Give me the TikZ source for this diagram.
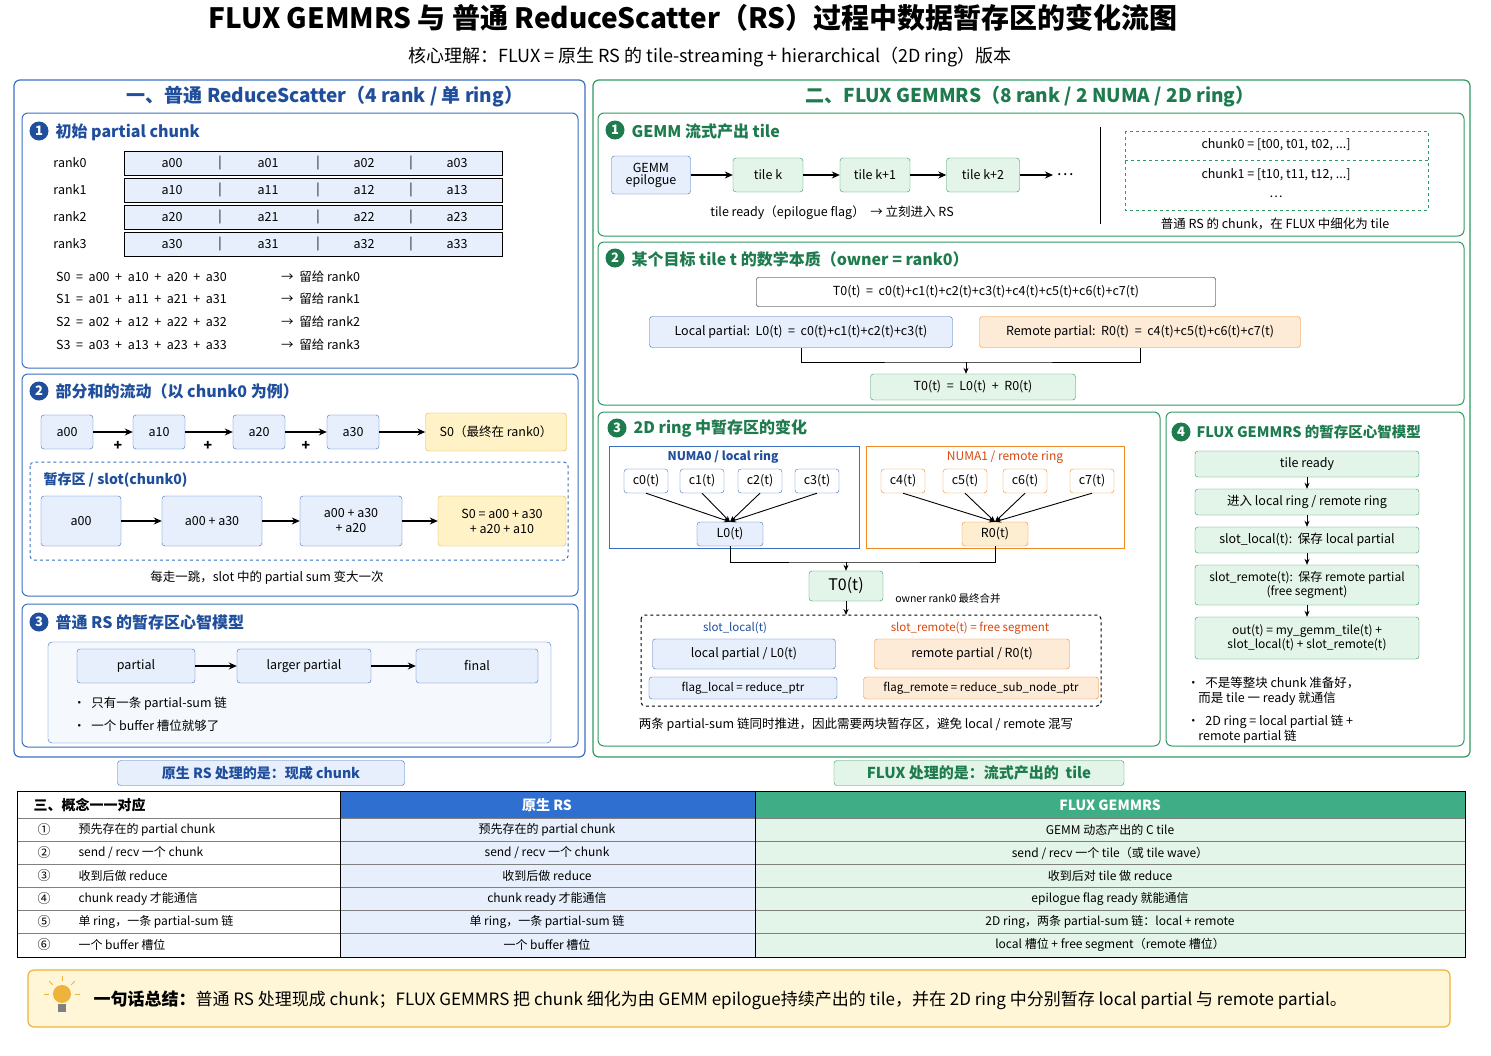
\documentclass[tikz,border=0pt]{standalone}
\usepackage{fontspec}
\setmainfont{Noto Sans CJK SC}
\usetikzlibrary{arrows.meta}
\definecolor{bdark}{HTML}{1F4E9C}
\definecolor{bline}{HTML}{3A6FC4}
\definecolor{bfill}{HTML}{E6EFFB}
\definecolor{gdark}{HTML}{1E7B4E}
\definecolor{gline}{HTML}{2E9A62}
\definecolor{gfill}{HTML}{E3F4E8}
\definecolor{oline}{HTML}{F08A24}
\definecolor{ofill}{HTML}{FDEBD8}
\definecolor{ored}{HTML}{D9480F}
\definecolor{yline}{HTML}{EDB33A}
\definecolor{yfill}{HTML}{FFF2C6}
\definecolor{hblue}{HTML}{2F6FD0}
\definecolor{hgreen}{HTML}{3FAE86}
\newcommand{\fz}[1]{\fontsize{#1}{\the\dimexpr#1pt*6/5\relax}\selectfont}
\tikzset{
 T/.style={font=\fz{12.5},inner sep=1pt},
 bb/.style={draw=bline,fill=bfill,rounded corners=3,font=\fz{12.5},align=center,inner sep=2pt},
 gb/.style={draw=gline,fill=gfill,rounded corners=3,font=\fz{12.5},align=center,inner sep=2pt},
 ob/.style={draw=oline,fill=ofill,rounded corners=3,font=\fz{12.5},align=center,inner sep=2pt},
 yb/.style={draw=yline,fill=yfill,rounded corners=3,font=\fz{12.5},align=center,inner sep=2pt},
 wb/.style={draw=black,fill=white,rounded corners=2,font=\fz{12.5},align=center,inner sep=2pt},
 panelB/.style={draw=bline,line width=1.2pt,rounded corners=6},
 panelG/.style={draw=gline,line width=1.2pt,rounded corners=6},
 numB/.style={circle,fill=bdark,text=white,font=\fz{13}\bfseries,inner sep=0pt,minimum size=19pt},
 numG/.style={circle,fill=gdark,text=white,font=\fz{13}\bfseries,inner sep=0pt,minimum size=19pt},
 hB/.style={font=\fz{16}\bfseries,text=bdark,anchor=west},
 hG/.style={font=\fz{16}\bfseries,text=gdark,anchor=west},
 ar/.style={-{Stealth[length=8pt,width=7pt]},line width=1.2pt},
 sar/.style={-{Stealth[length=6pt,width=5pt]},line width=0.9pt},
}
\begin{document}
\begin{tikzpicture}[x=1pt,y=-1pt]
\useasboundingbox[fill=white] (0,0) rectangle (1491,1055);
\node[font=\fz{28}\bfseries] (title) at (693,18) {FLUX GEMMRS 与 普通 ReduceScatter（RS）过程中数据暂存区的变化流图};
\node[font=\fz{18}] (sub) at (710,57) {核心理解：FLUX = 原生 RS 的 tile-streaming + hierarchical（2D ring）版本};

%% LEFT PANEL
\draw[panelB] (14,80) rectangle (585,757);
\node[font=\fz{19}\bfseries,text=bdark] (lh) at (325,97) {一、普通 ReduceScatter（4 rank / 单 ring）};
\draw[panelB,line width=1pt] (22,113) rectangle (578,368);
\node[numB] (n11) at (39,131) {1};
\node[hB] (l11) at (52,132) {初始 partial chunk};
\foreach \r/\y in {0/163,1/190,2/217,3/244}{
 \node[T] (rk\r) at (70,\y) {rank\r};
 \node[draw=black,fill=bfill,minimum width=378,minimum height=24,inner sep=0] (row\r) at (313,\y) {};
 \foreach \c/\x in {0/172,1/268,2/364,3/457}{\node[T] (a\r\c) at (\x,\y) {a\r\c};}
 \foreach \x in {220,318,411}{\node[T] at (\x,\y) {|};}
}
\foreach \s/\y in {0/277,1/299,2/322,3/345}{
 \node[T,anchor=west] (S\s) at (55,\y) {S\s\ \ =\ \ a0\s\ \ +\ \ a1\s\ \ +\ \ a2\s\ \ +\ \ a3\s};
 \node[T,anchor=west] (St\s) at (280,\y) {→\ \ 留给 rank\s};
}
\draw[panelB,line width=1pt] (22,374) rectangle (578,596);
\node[numB] (n12) at (39,391) {2};
\node[hB] (l12) at (52,391) {部分和的流动（以 chunk0 为例）};
\node[bb,minimum width=52,minimum height=34] (f0) at (67,432) {a00};
\node[bb,minimum width=52,minimum height=34] (f1) at (159,432) {a10};
\node[bb,minimum width=52,minimum height=34] (f2) at (259,432) {a20};
\node[bb,minimum width=52,minimum height=34] (f3) at (353,432) {a30};
\node[yb,minimum width=141,minimum height=38] (fS) at (496,432) {S0（最终在 rank0）};
\draw[ar] (f0) -- (f1); \draw[ar] (f1) -- (f2); \draw[ar] (f2) -- (f3); \draw[ar] (f3) -- (fS);
\foreach \x in {118,208,306}{\node[font=\fz{14}\bfseries] at (\x,446) {+};}
\draw[bline,dashed,line width=1pt,rounded corners=4] (30,462) rectangle (568,560);
\node[font=\fz{14}\bfseries,text=bdark,anchor=west] (slotl) at (40,480) {暂存区 / slot(chunk0)};
\node[bb,minimum width=80,minimum height=50] (s0) at (81,521) {a00};
\node[bb,minimum width=100,minimum height=50] (s1) at (212,521) {a00 + a30};
\node[bb,minimum width=102,minimum height=50] (s2) at (351,521) {a00 + a30\\+ a20};
\node[yb,minimum width=128,minimum height=50] (s3) at (502,521) {S0 = a00 + a30\\+ a20 + a10};
\draw[ar] (s0) -- (s1); \draw[ar] (s1) -- (s2); \draw[ar] (s2) -- (s3);
\node[T] (cap1) at (267,578) {每走一跳，slot 中的 partial sum 变大一次};
\draw[panelB,line width=1pt] (22,604) rectangle (578,747);
\node[numB] (n13) at (39,622) {3};
\node[hB] (l13) at (52,622) {普通 RS 的暂存区心智模型};
\draw[bline,fill=bfill!40,rounded corners=4] (48,642) rectangle (551,743);
\node[bb,minimum width=118,minimum height=34] (m0) at (136,666) {partial};
\node[bb,minimum width=134,minimum height=34] (m1) at (304,666) {larger partial};
\node[bb,minimum width=122,minimum height=34] (m2) at (477,666) {final};
\draw[ar] (m0) -- (m1); \draw[ar] (m1) -- (m2);
\node[T,anchor=west] (b1) at (72,704) {•\ \ 只有一条 partial-sum 链};
\node[T,anchor=west] (b2) at (72,726) {•\ \ 一个 buffer 槽位就够了};

%% RIGHT PANEL
\draw[panelG] (593,80) rectangle (1470,757);
\node[font=\fz{19}\bfseries,text=gdark] (rh) at (1030,97) {二、FLUX GEMMRS（8 rank / 2 NUMA / 2D ring）};
\draw[panelG,line width=1pt] (598,113) rectangle (1464,236);
\node[numG] (n21) at (615,130) {1};
\node[hG] (l21) at (628,131) {GEMM 流式产出 tile};
\node[bb,minimum width=79,minimum height=38] (ge) at (651,175) {GEMM\\[-3pt]epilogue};
\node[gb,minimum width=70,minimum height=34] (tk) at (768,175) {tile k};
\node[gb,minimum width=70,minimum height=34] (tk1) at (875,175) {tile k+1};
\node[gb,minimum width=73,minimum height=34] (tk2) at (983,175) {tile k+2};
\node[font=\fz{16}] (dots) at (1065,175) {⋯};
\draw[ar] (ge) -- (tk); \draw[ar] (tk) -- (tk1); \draw[ar] (tk1) -- (tk2); \draw[ar] (tk2) -- (dots);
\node[T] (cap21) at (832,213) {tile ready（epilogue flag）\ \ → 立刻进入 RS};
\draw[line width=0.8pt] (1100,127) -- (1100,224);
\draw[gline,dashed,line width=1pt] (1125,131) rectangle (1428,210);
\draw[gline,dashed,line width=1pt] (1125,160) -- (1428,160);
\node[T] (ch0) at (1276,145) {chunk0 = [t00, t01, t02, ...]};
\node[T] (ch1) at (1276,175) {chunk1 = [t10, t11, t12, ...]};
\node[T] (chd) at (1276,197) {⋯};
\node[T] (cap22) at (1275,224) {普通 RS 的 chunk，在 FLUX 中细化为 tile};

\draw[panelG,line width=1pt] (598,242) rectangle (1464,405);
\node[numG] (n22) at (615,258) {2};
\node[hG] (l22) at (628,259) {某个目标 tile t 的数学本质（owner = rank0）};
\node[wb,minimum width=459,minimum height=29] (T0) at (986,292) {T0(t)\ \ =\ \ c0(t)+c1(t)+c2(t)+c3(t)+c4(t)+c5(t)+c6(t)+c7(t)};
\node[bb,minimum width=303,minimum height=31] (Lp) at (801,332) {Local partial:\ \ L0(t)\ \ =\ \ c0(t)+c1(t)+c2(t)+c3(t)};
\node[ob,minimum width=321,minimum height=31] (Rp) at (1140,332) {Remote partial:\ \ R0(t)\ \ =\ \ c4(t)+c5(t)+c6(t)+c7(t)};
\node[gb,minimum width=205,minimum height=26] (Sum) at (973,387) {T0(t)\ \ =\ \ L0(t)\ \ +\ \ R0(t)};
\coordinate (jn) at (966,362);
\draw[line width=0.9pt] (Lp.south) |- (jn) -| (Rp.south);
\draw[sar] (jn) -- (jn |- Sum.north);

\draw[panelG,line width=1pt] (598,412) rectangle (1160,746);
\node[numG] (n23) at (617,428) {3};
\node[hG] (l23) at (630,428) {2D ring 中暂存区的变化};
\draw[bline,line width=0.9pt] (609,446) rectangle (859,548);
\node[font=\fz{12}\bfseries,text=bdark] (nu0) at (723,457) {NUMA0 / local ring};
\draw[oline,line width=0.9pt] (866,446) rectangle (1124,548);
\node[font=\fz{12},text=ored] (nu1) at (1005,457) {NUMA1 / remote ring};
\foreach \i/\x in {0/646,1/702,2/760,3/817}{\node[bb,fill=white,minimum width=44,minimum height=24] (c\i) at (\x,481) {c\i(t)};}
\foreach \i/\x in {4/903,5/965,6/1025,7/1092}{\node[ob,fill=white,minimum width=44,minimum height=24] (c\i) at (\x,481) {c\i(t)};}
\node[bb,minimum width=66,minimum height=24] (L0) at (730,534) {L0(t)};
\node[yb,draw=oline,fill=ofill!60!yfill,minimum width=66,minimum height=24] (R0) at (995,534) {R0(t)};
\foreach \i in {0,1,2,3}{\draw[sar] (c\i.south) -- (L0.north);}
\foreach \i in {4,5,6,7}{\draw[sar] (c\i.south) -- (R0.north);}
\node[gb,font=\fz{16},minimum width=74,minimum height=30] (T0b) at (846,586) {T0(t)};
\coordinate (j2) at (846,562);
\draw[line width=0.9pt] (L0.south) |- (j2) -| (R0.south);
\draw[sar] (j2) -- (T0b.north);
\node[font=\fz{10.5}] (own) at (948,599) {owner rank0 最终合并};
\draw[dashed,line width=1pt,rounded corners=4] (641,615) rectangle (1101,706);
\draw[sar] (T0b.south) -- (846,615);
\node[font=\fz{11.5},text=bdark] (slo) at (735,628) {slot\_local(t)};
\node[font=\fz{11.5},text=ored] (slr) at (970,628) {slot\_remote(t) = free segment};
\node[bb,minimum width=183,minimum height=30] (lpb) at (744,654) {local partial / L0(t)};
\node[ob,minimum width=195,minimum height=30] (rpb) at (972,654) {remote partial / R0(t)};
\node[bb,font=\fz{11.5},minimum width=188,minimum height=22] (fl) at (743,688) {flag\_local = reduce\_ptr};
\node[ob,font=\fz{11.5},minimum width=235,minimum height=22] (fr) at (981,688) {flag\_remote = reduce\_sub\_node\_ptr};
\node[T] (cap23) at (856,725) {两条 partial-sum 链同时推进，因此需要两块暂存区，避免 local / remote 混写};

\draw[panelG,line width=1pt] (1166,412) rectangle (1464,746);
\node[numG] (n24) at (1181,432) {4};
\node[hG,font=\fz{14.5}\bfseries] (l24) at (1193,432) {FLUX GEMMRS 的暂存区心智模型};
\node[gb,minimum width=224,minimum height=26] (k1) at (1307,464) {tile ready};
\node[gb,minimum width=224,minimum height=26] (k2) at (1307,502) {进入 local ring / remote ring};
\node[gb,minimum width=224,minimum height=26] (k3) at (1307,540) {slot\_local(t):\ \ 保存 local partial};
\node[gb,minimum width=224,minimum height=40,font=\fz{12}] (k4) at (1307,585) {slot\_remote(t):\ \ 保存 remote partial\\[0pt](free segment)};
\node[gb,minimum width=224,minimum height=42,font=\fz{12}] (k5) at (1307,638) {out(t) = my\_gemm\_tile(t) +\\[0pt]slot\_local(t) + slot\_remote(t)};
\draw[sar] (k1) -- (k2); \draw[sar] (k2) -- (k3); \draw[sar] (k3) -- (k4); \draw[sar] (k4) -- (k5);
\node[T,anchor=west,align=left] (kb1) at (1186,691) {•\ \ 不是等整块 chunk 准备好，\\\ \ \ \ 而是 tile 一 ready 就通信};
\node[T,anchor=west,align=left] (kb2) at (1186,729) {•\ \ 2D ring = local partial 链 +\\\ \ \ \ remote partial 链};

%% TAGS
\node[draw=bline,fill=bfill,rounded corners=3,minimum width=287,minimum height=25,font=\fz{14}\bfseries,text=bdark] (tagL) at (261,773) {原生 RS 处理的是：现成 chunk};
\node[draw=gline,fill=gfill,rounded corners=3,minimum width=290,minimum height=25,font=\fz{15}\bfseries,text=gdark] (tagR) at (979,773) {FLUX 处理的是：流式产出的\ \ tile};

%% TABLE
\fill[hblue] (340,791) rectangle (755,818);
\fill[hgreen] (755,791) rectangle (1465,818);
\fill[bfill] (340,818) rectangle (755,957);
\fill[gfill] (755,818) rectangle (1465,957);
\node[font=\fz{14}\bfseries,anchor=west] (th1) at (30,805) {三、概念一一对应};
\node[font=\fz{14}\bfseries,text=white] (th2) at (547,805) {原生 RS};
\node[font=\fz{14}\bfseries,text=white] (th3) at (1110,805) {FLUX GEMMRS};
\foreach \y in {818,841,864,887,910,933}{\draw[gray,line width=0.5pt] (17,\y) -- (1465,\y);}
\draw[line width=0.8pt] (340,791) -- (340,957);
\draw[line width=0.8pt] (755,791) -- (755,957);
\draw[line width=1pt] (17,791) rectangle (1465,957);
\foreach \n/\y/\a/\c in {
 ①/830/{预先存在的 partial chunk}/{GEMM 动态产出的 C tile},
 ②/853/{send / recv 一个 chunk}/{send / recv 一个 tile（或 tile wave）},
 ③/876/{收到后做 reduce}/{收到后对 tile 做 reduce},
 ④/899/{chunk ready 才能通信}/{epilogue flag ready 就能通信},
 ⑤/922/{单 ring，一条 partial-sum 链}/{2D ring，两条 partial-sum 链：local + remote},
 ⑥/945/{一个 buffer 槽位}/{local 槽位 + free segment（remote 槽位）}}{
 \node[font=\fz{13}] at (44,\y) {\n};
 \node[font=\fz{12},anchor=west] at (75,\y) {\a};
 \node[font=\fz{12}] at (547,\y) {\a};
 \node[font=\fz{12}] at (1110,\y) {\c};
}

%% SUMMARY
\draw[yline,fill=yfill!70,line width=1.2pt,rounded corners=6] (28,970) rectangle (1450,1027);
\fill[yline] (62,994) circle (9);
\fill[gray] (58,1004) rectangle (66,1012);
\foreach \a in {90,45,135,0,180}{\draw[yline,line width=1pt] (62,994) ++(\a:-13) -- ++(\a:-5);}
\node[font=\fz{17},anchor=west] (sum) at (90,1000) {\textbf{一句话总结：}普通 RS 处理现成 chunk；FLUX GEMMRS 把 chunk 细化为由 GEMM epilogue持续产出的 tile，并在 2D ring 中分别暂存 local partial 与 remote partial。};
\end{tikzpicture}
\end{document}
